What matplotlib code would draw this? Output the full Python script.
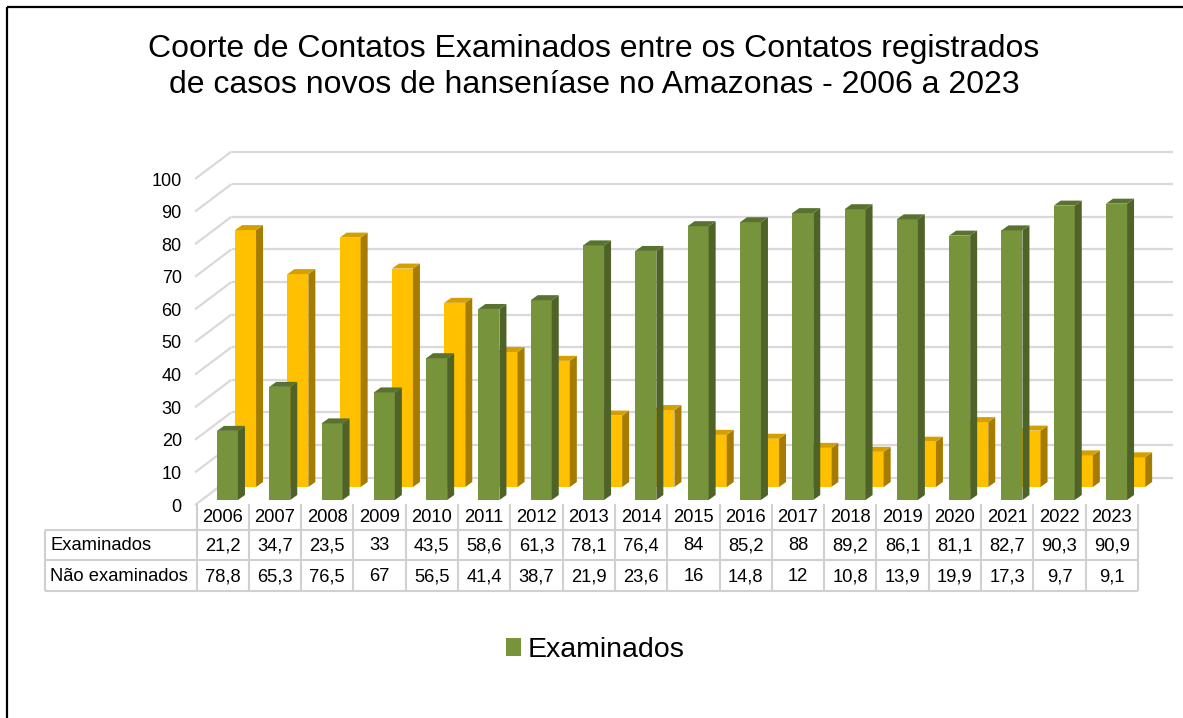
import matplotlib
matplotlib.use("Agg")
import matplotlib.pyplot as plt
from matplotlib.patches import Polygon
from matplotlib import transforms
import numpy as np

# ---------------- data ----------------
years = ["2006", "2007", "2008", "2009", "2010", "2011", "2012", "2013", "2014",
         "2015", "2016", "2017", "2018", "2019", "2020", "2021", "2022", "2023"]
examinados = [21.2, 34.7, 23.5, 33, 43.5, 58.6, 61.3, 78.1, 76.4,
              84, 85.2, 88, 89.2, 86.1, 81.1, 82.7, 90.3, 90.9]
nao_examinados = [78.8, 65.3, 76.5, 67, 56.5, 41.4, 38.7, 21.9, 23.6,
                  16, 14.8, 12, 10.8, 13.9, 19.9, 17.3, 9.7, 9.1]
row_labels = ["Examinados", "Não examinados"]
yticks = list(range(0, 101, 10))
title = ("Coorte de Contatos Examinados entre os Contatos registrados\n"
         "de casos novos de hanseníase no Amazonas - 2006 a 2023")

# ---------------- layout ----------------
W, H = 1183, 718
DPI = 100
PX_CAT = 52.3     # pixels per category
PX_VAL = 3.26     # pixels per value unit
X_CAT0 = 196.5    # pixel x of category boundary -0.5
Y_VAL0 = 505.0    # pixel y (from top) of value 0 at the front edge
XLIM = (-0.75, 18.3)
YLIM = (-3, 112)

FONT = "Liberation Sans"
plt.rcParams["font.family"] = [FONT, "DejaVu Sans"]

GREEN = "#77933C"; GREEN_SIDE = "#4F6228"; GREEN_TOP = "#5A7230"
ORANGE = "#FFC000"; ORANGE_SIDE = "#A67C00"; ORANGE_TOP = "#D49F00"
GRID = "#D9D9D9"
TABLE_LINE = "#D0D0D0"

fig = plt.figure(figsize=(W / DPI, H / DPI), dpi=DPI)
fig.patch.set_facecolor("white")

# pixel-space background axes (frame border)
pix = fig.add_axes([0, 0, 1, 1], zorder=0)
pix.set_xlim(0, W)
pix.set_ylim(H, 0)
pix.axis("off")
pix.plot([7, 7], [7, H], color="black", lw=1.6, solid_capstyle="butt")
pix.plot([7, W], [7, 7], color="black", lw=1.6, solid_capstyle="butt")

# main data axes, positioned so that categories / values map to the reference layout
left_px = X_CAT0 + (XLIM[0] + 0.5) * PX_CAT
right_px = X_CAT0 + (XLIM[1] + 0.5) * PX_CAT
bottom_px = Y_VAL0 - YLIM[0] * PX_VAL
top_px = Y_VAL0 - YLIM[1] * PX_VAL
ax = fig.add_axes([left_px / W, 1 - bottom_px / H,
                   (right_px - left_px) / W, (bottom_px - top_px) / H], zorder=1)
ax.set_xlim(*XLIM)
ax.set_ylim(*YLIM)
ax.patch.set_visible(False)
for s in ax.spines.values():
    s.set_visible(False)
ax.set_xticks([])
ax.set_yticks(yticks)
ax.set_yticklabels([str(t) for t in yticks])
ax.tick_params(axis="y", length=0, pad=1.2, labelsize=13, labelcolor="black")

# ---------------- 3D-like walls ----------------
WALL_DX = 36.5 / PX_CAT
WALL_DY = 27.5 / PX_VAL
x_front_left = -0.5 - 1.5 / PX_CAT
x_back_left = x_front_left + WALL_DX
x_back_right = (1173 - X_CAT0) / PX_CAT - 0.5
for v in yticks:
    ax.plot([x_front_left, x_back_left], [v, v + WALL_DY], color=GRID, lw=1.6,
            zorder=1, clip_on=False, solid_capstyle="butt")
    ax.plot([x_back_left, x_back_right], [v + WALL_DY, v + WALL_DY], color=GRID,
            lw=1.6, zorder=1, clip_on=False, solid_capstyle="butt")

# ---------------- bars ----------------
BW = 21 / PX_CAT
SDX = 7 / PX_CAT
SDY = 5 / PX_VAL
n = len(years)


def draw_row(vals, dx_px, dy_px, front, side, top, z):
    xs = np.arange(n) + dx_px / PX_CAT
    base = dy_px / PX_VAL
    bars = ax.bar(xs, vals, width=BW, bottom=base, color=front, linewidth=0,
                  zorder=z)
    for x, v in zip(xs, vals):
        xl, xr = x - BW / 2, x + BW / 2
        yt = base + v
        ax.add_patch(Polygon([(xr, base), (xr, yt), (xr + SDX, yt + SDY),
                              (xr + SDX, base + SDY)], closed=True,
                             facecolor=side, edgecolor="none", zorder=z))
        ax.add_patch(Polygon([(xl, yt), (xr, yt), (xr + SDX, yt + SDY),
                              (xl + SDX, yt + SDY)], closed=True,
                             facecolor=top, edgecolor="none", zorder=z))
    return bars


orange_bars = draw_row(nao_examinados, 22.9, 18.0, ORANGE, ORANGE_SIDE, ORANGE_TOP, 2)
green_bars = draw_row(examinados, 4.8, 5.0, GREEN, GREEN_SIDE, GREEN_TOP, 3)

# ---------------- data table ----------------
trans = transforms.blended_transform_factory(ax.transData, pix.transData)
x_lab_left = (45 - X_CAT0) / PX_CAT - 0.5
x_tab_right = n - 0.5
Y_HDR_TOP, Y_R1, Y_R2, Y_R3 = 504, 530, 560, 591
line_kw = dict(color=TABLE_LINE, lw=1.5, transform=trans, clip_on=False,
               zorder=1, solid_capstyle="butt")
for i in range(n + 1):
    ax.plot([i - 0.5, i - 0.5], [Y_HDR_TOP, Y_R3], **line_kw)
ax.plot([x_lab_left, x_lab_left], [Y_R1, Y_R3], **line_kw)
for y in (Y_R1, Y_R2, Y_R3):
    ax.plot([x_lab_left, x_tab_right], [y, y], **line_kw)

TFS = 13.2


def fmt(v):
    return f"{v:g}".replace(".", ",")


for i, yr in enumerate(years):
    ax.text(i, (Y_HDR_TOP + Y_R1) / 2 + 1, yr, transform=trans, ha="center",
            va="center", fontsize=TFS, clip_on=False)
    ax.text(i, (Y_R1 + Y_R2) / 2 + 1, fmt(examinados[i]), transform=trans,
            ha="center", va="center", fontsize=TFS, clip_on=False)
    ax.text(i, (Y_R2 + Y_R3) / 2 + 1, fmt(nao_examinados[i]), transform=trans,
            ha="center", va="center", fontsize=TFS, clip_on=False)
for lbl, (ya, yb) in zip(row_labels, [(Y_R1, Y_R2), (Y_R2, Y_R3)]):
    ax.text(x_lab_left + 5 / PX_CAT, (ya + yb) / 2 + 1, lbl, transform=trans,
            ha="left", va="center", fontsize=TFS, clip_on=False)

# ---------------- title ----------------
fig.text(594 / W, 1 - 67 / H, title, ha="center", va="center", fontsize=23,
         linespacing=1.28)

# ---------------- legend ----------------
fig.legend(handles=[green_bars], labels=["Examinados"], loc="center",
           bbox_to_anchor=(595 / W, 1 - 650 / H), frameon=False, fontsize=20.5,
           handlelength=0.55, handleheight=0.55, handletextpad=0.22)

fig.savefig("out.png", dpi=DPI, facecolor="white")
